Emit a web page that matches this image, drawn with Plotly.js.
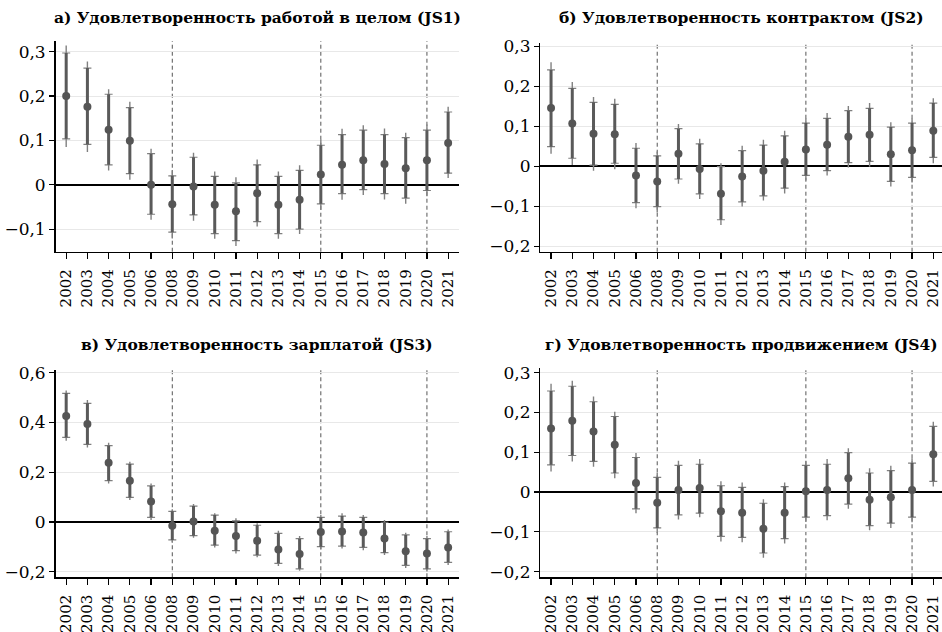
<!DOCTYPE html>
<html>
<head>
<meta charset="utf-8">
<script src="https://cdn.plot.ly/plotly-3.0.1.min.js"></script>
<style>html,body{margin:0;padding:0;background:#fff}#chart{width:942px;height:632px}</style>
</head>
<body>
<div id="chart"></div>
<script>
const years = ['2002','2003','2004','2005','2006','2008','2009','2010','2011','2012','2013','2014','2015','2016','2017','2018','2019','2020','2021'];
const breakYears = ['2008','2015','2020'];

const titles = [
  'а) Удовлетворенность работой в целом (JS1)',
  'б) Удовлетворенность контрактом (JS2)',
  'в) Удовлетворенность зарплатой (JS3)',
  'г) Удовлетворенность продвижением (JS4)'
];

// Panel а (JS1)
const js1Est  = [0.200,0.176,0.124,0.099,0.000,-0.044,-0.004,-0.045,-0.060,-0.019,-0.045,-0.034,0.023,0.045,0.055,0.047,0.037,0.055,0.094];
const js1Lo90 = [0.1035,0.091,0.045,0.025,-0.0665,-0.107,-0.068,-0.110,-0.126,-0.083,-0.110,-0.100,-0.043,-0.020,-0.011,-0.020,-0.030,-0.013,0.026];
const js1Hi90 = [0.297,0.263,0.204,0.174,0.070,0.020,0.062,0.019,0.004,0.045,0.019,0.0325,0.089,0.113,0.123,0.113,0.106,0.123,0.164];
const js1Lo95 = [0.085,0.074,0.032,0.011,-0.079,-0.121,-0.081,-0.122,-0.138,-0.094,-0.122,-0.111,-0.057,-0.034,-0.023,-0.033,-0.043,-0.026,0.015];
const js1Hi95 = [0.314,0.278,0.215,0.187,0.081,0.033,0.072,0.030,0.017,0.057,0.030,0.044,0.102,0.126,0.134,0.127,0.117,0.136,0.176];

// Panel б (JS2)
const js2Est  = [0.146,0.107,0.081,0.080,-0.023,-0.038,0.031,-0.007,-0.069,-0.026,-0.011,0.011,0.042,0.054,0.074,0.079,0.030,0.040,0.089];
const js2Lo90 = [0.049,0.020,0.003,0.0075,-0.091,-0.101,-0.032,-0.069,-0.134,-0.089,-0.074,-0.055,-0.023,-0.011,0.009,0.012,-0.038,-0.028,0.022];
const js2Hi90 = [0.241,0.195,0.160,0.155,0.045,0.026,0.094,0.056,-0.001,0.039,0.053,0.076,0.108,0.120,0.139,0.145,0.098,0.108,0.158];
const js2Lo95 = [0.031,0.003,-0.011,-0.0075,-0.105,-0.116,-0.044,-0.082,-0.147,-0.101,-0.086,-0.068,-0.036,-0.023,-0.003,-0.001,-0.051,-0.041,0.0075];
const js2Hi95 = [0.260,0.211,0.173,0.169,0.058,0.037,0.106,0.069,0.0075,0.051,0.066,0.089,0.120,0.133,0.151,0.158,0.110,0.120,0.170];

// Panel в (JS3)
const js3Est  = [0.426,0.394,0.238,0.166,0.082,-0.015,0.002,-0.035,-0.056,-0.075,-0.110,-0.129,-0.040,-0.038,-0.042,-0.066,-0.117,-0.126,-0.102];
const js3Lo90 = [0.340,0.312,0.166,0.099,0.019,-0.072,-0.055,-0.093,-0.115,-0.133,-0.166,-0.188,-0.099,-0.097,-0.102,-0.123,-0.174,-0.188,-0.162];
const js3Hi90 = [0.517,0.477,0.307,0.233,0.145,0.043,0.064,0.028,0.005,-0.013,-0.046,-0.067,0.019,0.024,0.019,-0.001,-0.052,-0.067,-0.039];
const js3Lo95 = [0.327,0.299,0.155,0.088,0.008,-0.083,-0.063,-0.102,-0.126,-0.142,-0.177,-0.196,-0.110,-0.106,-0.113,-0.133,-0.185,-0.199,-0.173];
const js3Hi95 = [0.528,0.490,0.319,0.242,0.155,0.051,0.072,0.035,0.015,-0.005,-0.035,-0.056,0.028,0.035,0.028,0.008,-0.043,-0.056,-0.030];

// Panel г (JS4)
const js4Est  = [0.160,0.179,0.152,0.119,0.023,-0.027,0.005,0.010,-0.048,-0.052,-0.092,-0.052,0.002,0.005,0.035,-0.019,-0.013,0.005,0.095];
const js4Lo90 = [0.0685,0.092,0.077,0.048,-0.042,-0.090,-0.057,-0.053,-0.111,-0.114,-0.153,-0.117,-0.063,-0.059,-0.030,-0.084,-0.078,-0.063,0.027];
const js4Hi90 = [0.254,0.266,0.227,0.190,0.087,0.037,0.067,0.070,0.016,0.012,-0.028,0.014,0.067,0.070,0.099,0.048,0.054,0.073,0.165];
const js4Lo95 = [0.052,0.077,0.064,0.035,-0.053,-0.103,-0.069,-0.063,-0.124,-0.126,-0.165,-0.129,-0.075,-0.071,-0.042,-0.096,-0.090,-0.076,0.014];
const js4Hi95 = [0.272,0.280,0.240,0.202,0.098,0.049,0.079,0.083,0.027,0.024,-0.018,0.024,0.079,0.083,0.110,0.060,0.066,0.085,0.177];

const panels = [
  {est: js1Est, lo90: js1Lo90, hi90: js1Hi90, lo95: js1Lo95, hi95: js1Hi95},
  {est: js2Est, lo90: js2Lo90, hi90: js2Hi90, lo95: js2Lo95, hi95: js2Hi95},
  {est: js3Est, lo90: js3Lo90, hi90: js3Hi90, lo95: js3Lo95, hi95: js3Hi95},
  {est: js4Est, lo90: js4Lo90, hi90: js4Hi90, lo95: js4Lo95, hi95: js4Hi95}
];

// layout geometry (styles, not data)
const geom = [
  {xd: [0.0590, 0.4870], yd: [0.6017, 0.9351], xr: [-0.5, 18.5],  yr: [-0.151, 0.324], dt: 0.1},
  {xd: [0.5737, 1.0000], yd: [0.6017, 0.9320], xr: [-0.5, 18.41], yr: [-0.214, 0.3085], dt: 0.1},
  {xd: [0.0590, 0.4870], yd: [0.0866, 0.4146], xr: [-0.5, 18.5],  yr: [-0.222, 0.611], dt: 0.2},
  {xd: [0.5737, 1.0000], yd: [0.0866, 0.4172], xr: [-0.5, 18.41], yr: [-0.214, 0.311], dt: 0.1}
];

const thinCol = '#808080', thickCol = '#5a5a5a', dotCol = '#555555';
const serif = 'DejaVu Serif, Liberation Serif, serif';

const traces = [];
const layout = {
  width: 942, height: 632,
  margin: {l: 0, r: 0, t: 0, b: 0},
  paper_bgcolor: '#fff', plot_bgcolor: '#fff',
  showlegend: false,
  separators: ', ',
  shapes: [], annotations: []
};

panels.forEach((p, i) => {
  const n = i + 1;
  const xa = n === 1 ? 'x' : 'x' + n;
  const ya = n === 1 ? 'y' : 'y' + n;
  const diff = (a, b) => a.map((v, k) => v - b[k]);
  // outer thin interval
  traces.push({
    type: 'scatter', mode: 'markers', x: years, y: p.est, xaxis: xa, yaxis: ya,
    marker: {size: 1, color: 'rgba(0,0,0,0)'}, hoverinfo: 'skip',
    error_y: {type: 'data', symmetric: false, array: diff(p.hi95, p.est), arrayminus: diff(p.est, p.lo95),
              color: thinCol, thickness: 1.4, width: 0}
  });
  // caps at inner interval ends
  traces.push({
    type: 'scatter', mode: 'markers', x: years, y: p.est, xaxis: xa, yaxis: ya,
    marker: {size: 1, color: 'rgba(0,0,0,0)'}, hoverinfo: 'skip',
    error_y: {type: 'data', symmetric: false, array: diff(p.hi90, p.est), arrayminus: diff(p.est, p.lo90),
              color: thinCol, thickness: 1.2, width: 4}
  });
  // inner thick interval + point estimate
  traces.push({
    type: 'scatter', mode: 'markers', x: years, y: p.est, xaxis: xa, yaxis: ya,
    marker: {size: 8, color: dotCol},
    error_y: {type: 'data', symmetric: false, array: diff(p.hi90, p.est), arrayminus: diff(p.est, p.lo90),
              color: thickCol, thickness: 3, width: 0}
  });

  const g = geom[i];
  layout['xaxis' + (n === 1 ? '' : n)] = {
    domain: g.xd, range: g.xr, type: 'category', anchor: ya,
    categoryorder: 'array', categoryarray: years,
    tickangle: -90, ticks: 'outside', ticklen: 6, tickwidth: 1.2, tickcolor: '#000',
    ticklabelstandoff: 4,
    showline: true, linecolor: '#000', linewidth: 1.5,
    showgrid: false, zeroline: false,
    tickfont: {family: serif, size: 15, color: '#000'}
  };
  layout['yaxis' + (n === 1 ? '' : n)] = {
    domain: g.yd, range: g.yr, anchor: xa,
    tick0: 0, dtick: g.dt,
    ticks: 'outside', ticklen: 5, tickwidth: 1.2, tickcolor: '#000',
    showline: true, linecolor: '#000', linewidth: 1.5,
    showgrid: true, gridcolor: '#e8e8e8', gridwidth: 1,
    zeroline: true, zerolinecolor: '#000', zerolinewidth: 2,
    tickfont: {family: serif, size: 17, color: '#000'}
  };
  breakYears.forEach(by => {
    const idx = years.indexOf(by);
    layout.shapes.push({
      type: 'line', xref: xa, yref: ya + ' domain', x0: idx, x1: idx, y0: 0, y1: 1,
      line: {color: '#555', width: 1, dash: '4px,3px'}, layer: 'below'
    });
  });
  layout.annotations.push({
    xref: 'paper', yref: 'paper', x: (g.xd[0] + g.xd[1]) / 2, y: n <= 2 ? 1 - 17 / 632 : 1 - 344 / 632,
    xanchor: 'center', yanchor: 'middle', showarrow: false,
    text: '<b>' + titles[i] + '</b>',
    font: {family: serif, size: 15.5, color: '#000'}
  });
});

Plotly.newPlot('chart', traces, layout, {displayModeBar: false, staticPlot: true});
</script>
</body>
</html>
